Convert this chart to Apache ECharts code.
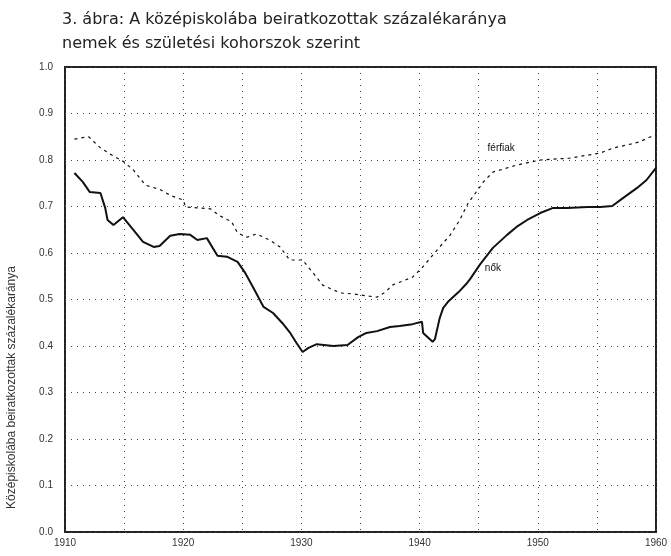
<!DOCTYPE html>
<html>
<head>
<meta charset="utf-8">
<script src="https://cdn.jsdelivr.net/npm/echarts@6/dist/echarts.min.js"></script>
<style>
  html, body, #main { margin: 0; padding: 0; width: 100%; height: 100%; overflow: hidden; background: #fff; }
</style>
</head>
<body>
<div id="main"></div>
<script>
// születési év (kohorsz) és beiratkozási arány
const ferfiakEv = [1910.8, 1912, 1913, 1914, 1915, 1915.8, 1916.8, 1918, 1919, 1920, 1920.2, 1921.2, 1922.3, 1923.1, 1924.1, 1924.6,
  1925.4, 1926.2, 1927.3, 1928.2, 1929, 1930.1, 1931, 1931.8, 1933.3, 1934.4, 1935.5, 1936.4, 1937.1, 1937.7, 1939.4, 1940.2,
  1940.9, 1941.7, 1942.6, 1943.4, 1944.1, 1944.9, 1945.4, 1946.2, 1948.2, 1950.2, 1952.7, 1955.3, 1956.4, 1957.5, 1958.6, 1960];
const ferfiakArany = [0.845, 0.85, 0.826, 0.81, 0.796, 0.778, 0.746, 0.737, 0.723, 0.714, 0.699, 0.697, 0.695, 0.68, 0.667, 0.643,
  0.634, 0.641, 0.628, 0.613, 0.585, 0.585, 0.557, 0.531, 0.514, 0.512, 0.508, 0.505, 0.516, 0.531, 0.548, 0.568,
  0.589, 0.613, 0.639, 0.671, 0.707, 0.735, 0.753, 0.774, 0.789, 0.8, 0.804, 0.815, 0.826, 0.832, 0.839, 0.855];

const nokEv = [1910.8, 1911.5, 1912.1, 1913, 1913.4, 1913.6, 1914.1, 1914.9, 1915.8, 1916.6, 1917.5, 1918, 1918.9, 1919.7, 1920.6,
  1921.2, 1922, 1922.9, 1923.7, 1924.6, 1925.2, 1925.9, 1926.8, 1927.6, 1928.4, 1929, 1929.6, 1930.1, 1930.6, 1931.3, 1932.7,
  1933.9, 1934.8, 1935.5, 1936.4, 1937.5, 1938.3, 1939.4, 1940.2, 1940.3, 1941.1, 1941.3, 1941.7, 1942, 1942.4, 1943.3, 1944,
  1944.3, 1945.1, 1946.2, 1947.4, 1948.2, 1949.1, 1950.2, 1951.3, 1952.5, 1954.2, 1955.3, 1956.3, 1957.2, 1958.4, 1959.2, 1960];
const nokArany = [0.772, 0.753, 0.731, 0.729, 0.697, 0.671, 0.66, 0.677, 0.649, 0.624, 0.613, 0.615, 0.637, 0.641, 0.639,
  0.628, 0.632, 0.594, 0.592, 0.581, 0.559, 0.527, 0.484, 0.471, 0.449, 0.43, 0.406, 0.387, 0.396, 0.404, 0.4,
  0.402, 0.419, 0.428, 0.432, 0.441, 0.443, 0.447, 0.452, 0.428, 0.409, 0.415, 0.46, 0.482, 0.495, 0.516, 0.535,
  0.545, 0.575, 0.611, 0.639, 0.656, 0.671, 0.686, 0.697, 0.697, 0.699, 0.699, 0.701, 0.718, 0.74, 0.757, 0.783];

const evCimkek = [1910, 1920, 1930, 1940, 1950, 1960];

let myChart = echarts.init(document.getElementById("main"));

// vonalfelirat a görbe mellé
function felirat(szoveg, ev, ertek) {
  return {
    symbol: "circle",
    symbolSize: 1,
    itemStyle: { color: "rgba(0,0,0,0)" },
    data: [{ coord: [ev, ertek] }],
    label: { show: true, position: "inside", formatter: szoveg, color: "#111", fontSize: 10 },
  };
}

myChart.setOption({
  animation: false,
  textStyle: { fontFamily: "Liberation Sans, Arial, sans-serif" },
  title: {
    text: "3. ábra: A középiskolába beiratkozottak százalékaránya\nnemek és születési kohorszok szerint",
    left: 57,
    top: 3,
    textStyle: { fontSize: 16, fontFamily: "DejaVu Sans", fontWeight: "normal", color: "#222", lineHeight: 24 },
  },
  grid: {
    left: 65,
    right: 15,
    top: 67,
    bottom: 24,
    outerBoundsMode: "none",
    show: true,
    borderColor: "#222",
    borderWidth: 2,
  },
  xAxis: {
    type: "value",
    min: 1910,
    max: 1960,
    interval: 5,
    axisLine: { show: false },
    axisTick: { show: false },
    axisLabel: {
      color: "#333",
      fontSize: 10,
      margin: 6,
      formatter: (v) => (evCimkek.indexOf(v) >= 0 ? String(v) : ""),
    },
    splitLine: { lineStyle: { type: [1, 5], color: "#444", width: 1 } },
  },
  yAxis: {
    type: "value",
    min: 0,
    max: 1,
    interval: 0.1,
    name: "Középiskolába beiratkozottak százalékaránya",
    nameLocation: "middle",
    nameGap: 47,
    nameTextStyle: { fontSize: 12, color: "#333", padding: [0, 176, 0, 0] },
    axisLine: { show: false },
    axisTick: { show: false },
    axisLabel: { color: "#333", fontSize: 10, margin: 12, formatter: (v) => v.toFixed(1) },
    splitLine: { lineStyle: { type: [1, 5], color: "#444", width: 1 } },
  },
  series: [
    {
      name: "férfiak",
      type: "line",
      data: ferfiakEv.map((e, i) => [e, ferfiakArany[i]]),
      showSymbol: false,
      lineStyle: { color: "#111", width: 1.2, type: [3, 4] },
      markPoint: felirat("férfiak", 1946.9, 0.826),
    },
    {
      name: "nők",
      type: "line",
      data: nokEv.map((e, i) => [e, nokArany[i]]),
      showSymbol: false,
      lineStyle: { color: "#111", width: 2 },
      markPoint: felirat("nők", 1946.2, 0.568),
    },
  ],
});

window.onresize = myChart.resize;
</script>
</body>
</html>
